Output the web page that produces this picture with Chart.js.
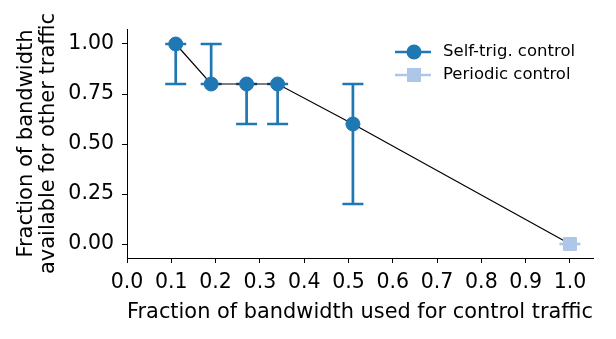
<!DOCTYPE html>
<html><head><meta charset="utf-8">
<script src="https://cdn.jsdelivr.net/npm/chart.js@4/dist/chart.umd.min.js"></script>
<style>html,body{margin:0;padding:0;background:#fff}#wrap{width:616px;height:339px}</style>
</head><body><div id="wrap"><canvas id="c" width="616" height="339"></canvas></div>
<script>
const selfX = [0.11, 0.19, 0.27, 0.34, 0.51];
const selfY = [1.0, 0.8, 0.8, 0.8, 0.6];
const selfErrLow = [0.8, 0.8, 0.6, 0.6, 0.2];
const selfErrHigh = [1.0, 1.0, 0.8, 0.8, 0.8];
const periodicX = [1.0];
const periodicY = [0.0];
const xTicks = [0.0,0.1,0.2,0.3,0.4,0.5,0.6,0.7,0.8,0.9,1.0];
const yTicks = [0.0,0.25,0.5,0.75,1.0];
const seriesNames = ["Self-trig. control", "Periodic control"];
const xTitle = 'Fraction of bandwidth used for control traffic';
const yTitleLines = ['Fraction of bandwidth','available for other traffic'];

const C1 = '#1f77b4', C2 = '#aec7e8';
const FONT = 'DejaVu Sans';
const FS = 20.5;
const TFS = 21;

const linePts = selfX.map((x,i)=>({x, y: selfY[i]})).concat(periodicX.map((x,i)=>({x, y: periodicY[i]})));

const errorBars = {
  id:'errorBars',
  beforeDatasetsDraw(chart){
    const {ctx, scales:{x, y}} = chart;
    ctx.save();
    ctx.strokeStyle = C1; ctx.lineWidth = 2.7;
    selfX.forEach((v,i)=>{
      const px = x.getPixelForValue(v);
      const lo = y.getPixelForValue(selfErrLow[i]), hi = y.getPixelForValue(selfErrHigh[i]);
      ctx.beginPath(); ctx.moveTo(px, lo); ctx.lineTo(px, hi);
      ctx.moveTo(px-10.5, lo); ctx.lineTo(px+10.5, lo);
      ctx.moveTo(px-10.5, hi); ctx.lineTo(px+10.5, hi);
      ctx.stroke();
    });
    ctx.strokeStyle = C2;
    periodicX.forEach((v,i)=>{
      const px = x.getPixelForValue(v), py = y.getPixelForValue(periodicY[i]);
      ctx.beginPath(); ctx.moveTo(px-10.5, py); ctx.lineTo(px+10.5, py); ctx.stroke();
    });
    ctx.restore();
  }
};

const legendPlugin = {
  id:'customLegend',
  afterDraw(chart){
    const ctx = chart.ctx;
    ctx.save();
    const items = [[C1,'circle'],[C2,'rect']];
    items.forEach((it,i)=>{
      const yy = 52 + i*23;
      ctx.strokeStyle = it[0]; ctx.lineWidth = 2.7;
      ctx.beginPath(); ctx.moveTo(395, yy); ctx.lineTo(431, yy); ctx.stroke();
      ctx.fillStyle = it[0];
      if(it[1]==='circle'){ ctx.beginPath(); ctx.arc(414, yy, 7.5, 0, Math.PI*2); ctx.fill(); }
      else { ctx.fillRect(407, yy-7, 14, 14); }
      ctx.fillStyle = '#000'; ctx.font = '16.5px "'+FONT+'"'; ctx.textBaseline='middle'; ctx.textAlign='left';
      ctx.fillText(seriesNames[i], 443, yy);
    });
    // y axis title (two lines, rotated)
    const ca = chart.chartArea;
    const cy = (ca.top + ca.bottom) / 2;
    ctx.font = TFS + 'px "' + FONT + '"';
    ctx.fillStyle = '#000'; ctx.textAlign = 'center'; ctx.textBaseline = 'alphabetic';
    const baselines = [32, 53.5];
    yTitleLines.forEach((t, i)=>{
      ctx.save();
      ctx.translate(baselines[i], cy);
      ctx.rotate(-Math.PI/2);
      ctx.fillText(t, 0, 0);
      ctx.restore();
    });
    ctx.restore();
  }
};

new Chart(document.getElementById('c'), {
  type:'scatter',
  data:{datasets:[
    {label:'line', data: linePts, showLine:true, borderColor:'#000', borderWidth:1.2, pointRadius:0, order:3},
    {label:seriesNames[0], data: selfX.map((x,i)=>({x,y:selfY[i]})), backgroundColor:C1, borderColor:C1, borderWidth:1, pointRadius:7, pointHoverRadius:7, order:1},
    {label:seriesNames[1], data: periodicX.map((x,i)=>({x,y:periodicY[i]})), backgroundColor:C2, borderColor:C2, borderWidth:1, pointStyle:'rect', pointRadius:9.2, pointHoverRadius:9.2, order:2}
  ]},
  plugins:[errorBars, legendPlugin],
  options:{
    responsive:false, animation:false,
    layout:{padding:{top:29, right:23, left:0, bottom:0}},
    plugins:{legend:{display:false}, tooltip:{enabled:false}},
    scales:{
      x:{type:'linear', min:0, max:1.052,
        afterBuildTicks(s){ s.ticks = xTicks.map(v=>({value:v})); },
        afterFit(s){ s.height = 81; },
        grid:{drawOnChartArea:false, drawTicks:true, tickLength:5, color:'#000', lineWidth:1},
        border:{display:true, color:'#000', width:1},
        ticks:{color:'#000', font:{family:FONT, size:FS}, padding:7, maxRotation:0, autoSkip:false, callback:v=>Number(v).toFixed(1)},
        title:{display:true, text:xTitle, color:'#000', font:{family:FONT, size:TFS}, padding:{top:0, bottom:14}}
      },
      y:{type:'linear', min:-0.07, max:1.075,
        afterBuildTicks(s){ s.ticks = yTicks.map(v=>({value:v})); },
        afterFit(s){ s.width = 127; },
        grid:{drawOnChartArea:false, drawTicks:true, tickLength:5, color:'#000', lineWidth:1},
        border:{display:true, color:'#000', width:1},
        ticks:{color:'#000', font:{family:FONT, size:FS}, padding:8, callback:v=>Number(v).toFixed(2)},
        title:{display:false}
      }
    }
  }
});
</script></body></html>
